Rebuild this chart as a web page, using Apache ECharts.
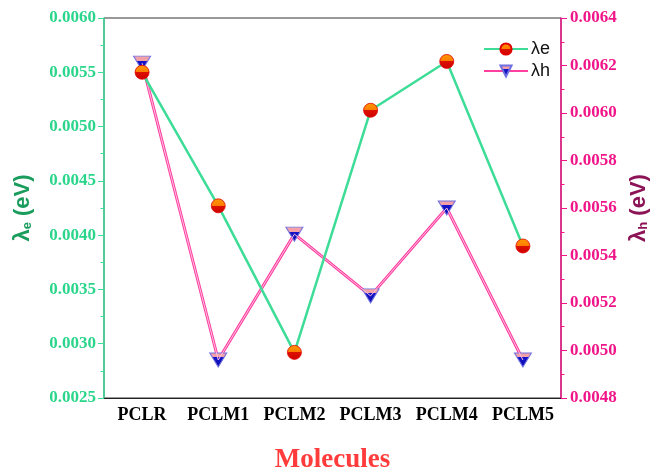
<!DOCTYPE html>
<html>
<head>
<meta charset="utf-8">
<script src="https://cdn.jsdelivr.net/npm/echarts@6/dist/echarts.min.js"></script>
<style>
  html, body { margin: 0; padding: 0; background: #ffffff; }
  #chart { width: 651px; height: 470px; }
</style>
</head>
<body>
<div id="chart"></div>
<script>
// Reorganisation energies of the molecules
const molecules = ['PCLR', 'PCLM1', 'PCLM2', 'PCLM3', 'PCLM4', 'PCLM5'];
const lambdaE = [0.00550, 0.00427, 0.00292, 0.00515, 0.00560, 0.00390]; // left axis
const lambdaH = [0.00621, 0.00496, 0.00549, 0.00523, 0.00560, 0.00496]; // right axis

const leftAxis = { min: 0.0025, max: 0.0060, step: 0.0005 };
const rightAxis = { min: 0.0048, max: 0.0064, step: 0.0002 };

const SERIF = '"Liberation Serif", "Times New Roman", serif';
const SANS = '"Liberation Sans", Arial, sans-serif';

const GREEN_LINE = '#3ddc97';
const GREEN_TEXT = '#2bd68c';
const GREEN_NAME = '#1a9c5c';
const PINK_AXIS = '#f0168a';
const PINK_LINE = '#ff3fa0';
const PINK_NAME = '#8c1456';

const circleFill = {
  type: 'linear', x: 0, y: 0, x2: 0, y2: 1,
  colorStops: [
    { offset: 0, color: '#ff9a00' },
    { offset: 0.5, color: '#ff7a00' },
    { offset: 0.5, color: '#dd1100' },
    { offset: 1, color: '#cc0000' }
  ]
};
const triangleFill = {
  type: 'linear', x: 0, y: 0, x2: 0, y2: 1,
  colorStops: [
    { offset: 0, color: '#f4a0a8' },
    { offset: 0.33, color: '#f4a0a8' },
    { offset: 0.33, color: '#1414c8' },
    { offset: 1, color: '#0c0cb0' }
  ]
};
const downTriangle = 'path://M0,0 L20,0 L10,16 Z';

const chart = echarts.init(document.getElementById('chart'), null, { renderer: 'canvas' });

const fmt = v => v.toFixed(4);

chart.setOption({
  animation: false,
  backgroundColor: '#ffffff',
  grid: {
    left: 104, right: 90, top: 18, bottom: 72,
    outerBoundsMode: 'none', containLabel: false,
    show: true, borderColor: '#333333', borderWidth: 1
  },
  legend: {
    orient: 'vertical',
    left: 483, top: 40, padding: 0,
    itemWidth: 44, itemHeight: 14, itemGap: 4,
    textStyle: { fontFamily: SANS, fontSize: 18, color: '#111111', padding: [0, 0, 0, -2] },
    data: ['λe', 'λh']
  },
  xAxis: [
    {
      type: 'category', data: molecules, position: 'bottom', boundaryGap: true,
      axisLine: { lineStyle: { color: '#222222', width: 1 } },
      axisTick: { alignWithLabel: true, interval: 0, length: 6, lineStyle: { color: '#222222' } },
      axisLabel: { interval: 0, fontFamily: SERIF, fontWeight: 'bold', fontSize: 18, color: '#000000', margin: 8 },
      name: 'Molecules', nameLocation: 'middle', nameGap: 49,
      nameTextStyle: { fontFamily: SERIF, fontWeight: 'bold', fontSize: 27, color: '#ff3b3b' }
    },
    {
      type: 'category', data: molecules, position: 'bottom', boundaryGap: true,
      axisLine: { show: false },
      axisTick: { interval: 0, length: 3, lineStyle: { color: '#222222' } },
      axisLabel: { show: false }
    }
  ],
  yAxis: [
    {
      type: 'value', position: 'left',
      min: leftAxis.min, max: leftAxis.max, interval: leftAxis.step,
      axisLine: { show: true, lineStyle: { color: GREEN_LINE, width: 1.5 } },
      axisTick: { show: true, length: 6, lineStyle: { color: GREEN_LINE } },
      minorTick: { show: true, splitNumber: 2, length: 3.5, lineStyle: { color: GREEN_LINE } },
      splitLine: { show: false },
      axisLabel: { formatter: fmt, fontFamily: SERIF, fontWeight: 'bold', fontSize: 17, color: GREEN_TEXT, margin: 8 },
      name: '{a|λ}{s|e}{a| (eV)}', nameLocation: 'middle', nameRotate: 90, nameGap: 70,
      nameTextStyle: {
        rich: {
          a: { fontFamily: SANS, fontWeight: 'bold', fontSize: 22, color: GREEN_NAME },
          s: { fontFamily: SANS, fontWeight: 'bold', fontSize: 13, color: GREEN_NAME, padding: [9, 0, 0, 0] }
        }
      }
    },
    {
      type: 'value', position: 'right',
      min: rightAxis.min, max: rightAxis.max, interval: rightAxis.step,
      axisLine: { show: true, lineStyle: { color: PINK_AXIS, width: 1.5 } },
      axisTick: { show: true, length: 6, lineStyle: { color: PINK_AXIS } },
      minorTick: { show: true, splitNumber: 2, length: 3.5, lineStyle: { color: PINK_AXIS } },
      splitLine: { show: false },
      axisLabel: { formatter: fmt, fontFamily: SERIF, fontWeight: 'bold', fontSize: 17, color: PINK_AXIS, margin: 9 },
      name: '{a|λ}{s|h}{a| (eV)}', nameLocation: 'middle', nameRotate: 90, nameGap: 64,
      nameTextStyle: {
        rich: {
          a: { fontFamily: SANS, fontWeight: 'bold', fontSize: 22, color: PINK_NAME },
          s: { fontFamily: SANS, fontWeight: 'bold', fontSize: 13, color: PINK_NAME, padding: [9, 0, 0, 0] }
        }
      }
    }
  ],
  series: [
    {
      name: 'λe', type: 'line', xAxisIndex: 0, yAxisIndex: 0, data: lambdaE,
      lineStyle: { color: GREEN_LINE, width: 2.5 },
      symbol: 'circle', symbolSize: 14, showAllSymbol: true,
      itemStyle: { color: circleFill, borderColor: '#e00000', borderWidth: 0.8 },
      z: 3
    },
    {
      name: 'λh', type: 'line', xAxisIndex: 0, yAxisIndex: 1, data: lambdaH,
      lineStyle: { color: PINK_LINE, width: 3 },
      symbol: downTriangle, symbolSize: [17, 14], showAllSymbol: true,
      itemStyle: { color: triangleFill, borderColor: '#7070e0', borderWidth: 1 },
      z: 2
    },
    {
      // light core of the λh line, giving it a hollow look
      name: 'λh core', type: 'line', xAxisIndex: 0, yAxisIndex: 1, data: lambdaH,
      lineStyle: { color: '#ffc0e0', width: 1 },
      symbol: 'none', silent: true, z: 2.5
    }
  ]
});
</script>
</body>
</html>
